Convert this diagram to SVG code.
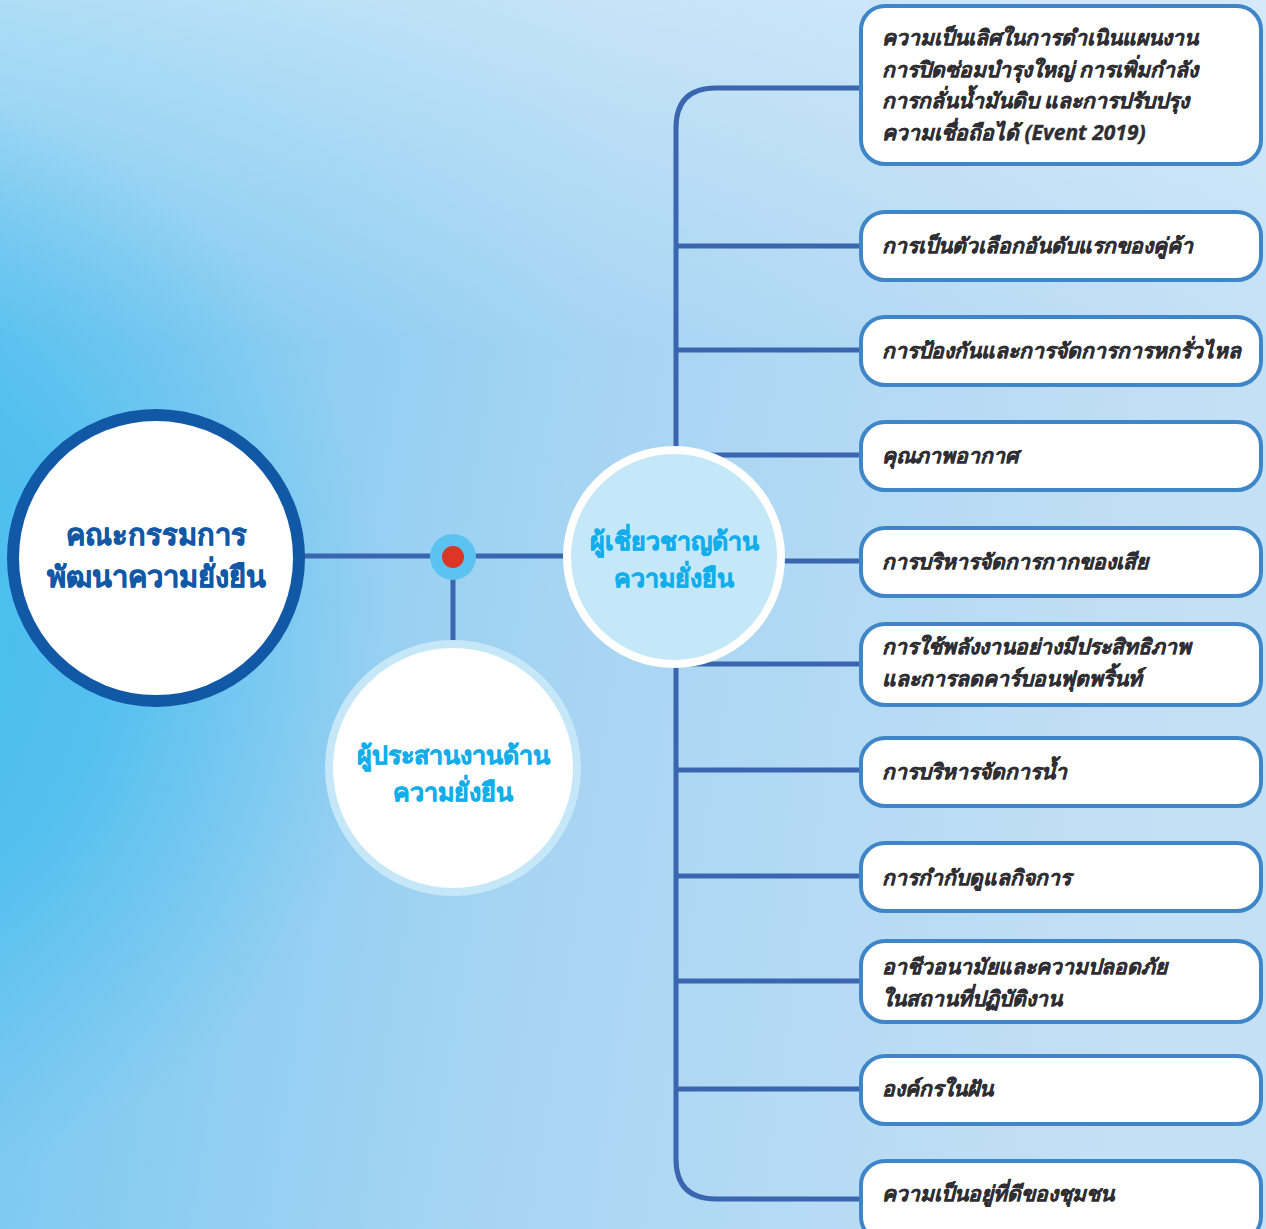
<svg xmlns="http://www.w3.org/2000/svg" width="1266" height="1229" viewBox="0 0 1266 1229">
  <defs>
    <linearGradient id="bgBase" x1="0" y1="0" x2="1" y2="0.15">
      <stop offset="0" stop-color="#6FC5F0"/>
      <stop offset="0.5" stop-color="#A6D4F3"/>
      <stop offset="1" stop-color="#C4E0F5"/>
    </linearGradient>
    <linearGradient id="bgTop" x1="0" y1="0" x2="0" y2="1">
      <stop offset="0" stop-color="#E2F1FB" stop-opacity="0.55"/>
      <stop offset="0.28" stop-color="#E2F1FB" stop-opacity="0"/>
    </linearGradient>
    <radialGradient id="glowLeft" cx="-170" cy="640" r="560" gradientUnits="userSpaceOnUse">
      <stop offset="0" stop-color="#3DBBEE" stop-opacity="0.9"/>
      <stop offset="0.5" stop-color="#45BDEE" stop-opacity="0.75"/>
      <stop offset="1" stop-color="#5CC2EF" stop-opacity="0"/>
    </radialGradient>
    <style>
      .link { fill: none; stroke: #3A66B0; stroke-width: 5; }
      .box { fill: #FFFFFF; stroke: #3F86C8; stroke-width: 4; }
      .item { font-family: "Noto Sans", "DejaVu Sans", sans-serif; font-size: 21px; font-weight: 700; font-style: italic; fill: #2E2E33; stroke: #2E2E33; stroke-width: 0.35; }
      .hub { font-family: "Noto Sans", "DejaVu Sans", sans-serif; font-weight: 700; text-anchor: middle; stroke-width: 0.6; }
      .dark { fill: #1158A6; stroke: #1158A6; }
      .cyan { fill: #12AEEB; stroke: #12AEEB; }
    </style>
  </defs>

  <!-- background -->
  <rect width="1266" height="1229" fill="url(#bgBase)"/>
  <rect width="1266" height="1229" fill="url(#bgTop)"/>
  <rect width="1266" height="1229" fill="url(#glowLeft)"/>

  <!-- connectors -->
  <g id="connectors">
    <line class="link" x1="300" y1="556" x2="570" y2="556"/>
    <line class="link" x1="453" y1="556" x2="453" y2="645"/>
    <path class="link" d="M862 88 H716 Q676 88 676 128 V1159 Q676 1199 716 1199 H862"/>
    <line class="link" x1="676" y1="246" x2="862" y2="246"/>
    <line class="link" x1="676" y1="350" x2="862" y2="350"/>
    <line class="link" x1="676" y1="455" x2="862" y2="455"/>
    <line class="link" x1="676" y1="561" x2="862" y2="561"/>
    <line class="link" x1="676" y1="664" x2="862" y2="664"/>
    <line class="link" x1="676" y1="770" x2="862" y2="770"/>
    <line class="link" x1="676" y1="876" x2="862" y2="876"/>
    <line class="link" x1="676" y1="981" x2="862" y2="981"/>
    <line class="link" x1="676" y1="1089" x2="862" y2="1089"/>
  </g>

  <!-- junction dot -->
  <g id="junction">
    <circle cx="453" cy="557" r="23" fill="#5BC3F0"/>
    <circle cx="453" cy="557" r="11" fill="#DD3526"/>
  </g>

  <!-- committee -->
  <g id="committee">
    <circle cx="156" cy="558" r="143" fill="#FFFFFF" stroke="#1158A6" stroke-width="12"/>
    <text class="hub dark" x="156" y="545" font-size="29">คณะกรรมการ</text>
    <text class="hub dark" x="156" y="587" font-size="29">พัฒนาความยั่งยืน</text>
  </g>

  <!-- coordinator -->
  <g id="coordinator">
    <circle cx="453" cy="768" r="124" fill="#FFFFFF" stroke="#C6E7F8" stroke-width="8"/>
    <text class="hub cyan" x="453" y="764" font-size="25">ผู้ประสานงานด้าน</text>
    <text class="hub cyan" x="453" y="801" font-size="25">ความยั่งยืน</text>
  </g>

  <!-- expert -->
  <g id="expert">
    <circle cx="674" cy="557" r="107" fill="#C5E8F8" stroke="#FFFFFF" stroke-width="8"/>
    <text class="hub cyan" x="674" y="550" font-size="25">ผู้เชี่ยวชาญด้าน</text>
    <text class="hub cyan" x="674" y="587" font-size="25">ความยั่งยืน</text>
  </g>

  <!-- topic boxes -->
  <g id="topic-1">
    <rect class="box" x="861" y="6" width="400" height="158" rx="24"/>
    <text class="item" x="882" y="45">ความเป็นเลิศในการดำเนินแผนงาน</text>
    <text class="item" x="882" y="77">การปิดซ่อมบำรุงใหญ่ การเพิ่มกำลัง</text>
    <text class="item" x="882" y="108">การกลั่นน้ำมันดิบ และการปรับปรุง</text>
    <text class="item" x="882" y="140">ความเชื่อถือได้ (Event 2019)</text>
  </g>
  <g id="topic-2">
    <rect class="box" x="861" y="212" width="400" height="68" rx="24"/>
    <text class="item" x="882" y="253">การเป็นตัวเลือกอันดับแรกของคู่ค้า</text>
  </g>
  <g id="topic-3">
    <rect class="box" x="861" y="317" width="400" height="68" rx="24"/>
    <text class="item" x="882" y="358">การป้องกันและการจัดการการหกรั่วไหล</text>
  </g>
  <g id="topic-4">
    <rect class="box" x="861" y="422" width="400" height="68" rx="24"/>
    <text class="item" x="882" y="463">คุณภาพอากาศ</text>
  </g>
  <g id="topic-5">
    <rect class="box" x="861" y="528" width="400" height="68" rx="24"/>
    <text class="item" x="882" y="569">การบริหารจัดการกากของเสีย</text>
  </g>
  <g id="topic-6">
    <rect class="box" x="861" y="624" width="400" height="81" rx="24"/>
    <text class="item" x="882" y="654">การใช้พลังงานอย่างมีประสิทธิภาพ</text>
    <text class="item" x="882" y="686">และการลดคาร์บอนฟุตพริ้นท์</text>
  </g>
  <g id="topic-7">
    <rect class="box" x="861" y="738" width="400" height="68" rx="24"/>
    <text class="item" x="882" y="779">การบริหารจัดการน้ำ</text>
  </g>
  <g id="topic-8">
    <rect class="box" x="861" y="843" width="400" height="68" rx="24"/>
    <text class="item" x="882" y="885">การกำกับดูแลกิจการ</text>
  </g>
  <g id="topic-9">
    <rect class="box" x="861" y="941" width="400" height="81" rx="24"/>
    <text class="item" x="882" y="974">อาชีวอนามัยและความปลอดภัย</text>
    <text class="item" x="882" y="1006">ในสถานที่ปฏิบัติงาน</text>
  </g>
  <g id="topic-10">
    <rect class="box" x="861" y="1056" width="400" height="68" rx="24"/>
    <text class="item" x="882" y="1096">องค์กรในฝัน</text>
  </g>
  <g id="topic-11">
    <rect class="box" x="861" y="1161" width="400" height="80" rx="24"/>
    <text class="item" x="882" y="1201">ความเป็นอยู่ที่ดีของชุมชน</text>
  </g>
</svg>
